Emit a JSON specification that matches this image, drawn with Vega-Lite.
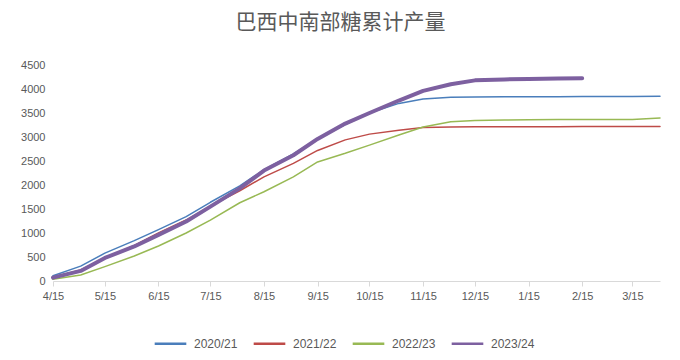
{
  "$schema": "https://vega.github.io/schema/vega-lite/v6.json",
  "width": 607,
  "height": 216,
  "autosize": {"type": "none"},
  "padding": {"left": 53, "top": 65, "right": 20, "bottom": 79},
  "background": "white",
  "title": {
    "text": "巴西中南部糖累计产量",
    "font": "Noto Sans CJK SC",
    "fontSize": 21,
    "fontWeight": "normal",
    "color": "#595959",
    "anchor": "middle",
    "dx": -16,
    "offset": 26
  },
  "config": {
    "view": {"stroke": null},
    "axis": {"labelFont": "Liberation Sans", "labelFontSize": 11, "labelColor": "#595959", "grid": false, "title": null},
    "legend": {"labelFont": "Liberation Sans", "labelFontSize": 12, "labelColor": "#595959"}
  },
  "data": {
    "values": [
      {"date": "2023-04-15T00:00", "season": "2020/21", "value": 110},
      {"date": "2023-05-01T00:00", "season": "2020/21", "value": 310},
      {"date": "2023-05-15T00:00", "season": "2020/21", "value": 580},
      {"date": "2023-06-01T00:00", "season": "2020/21", "value": 840},
      {"date": "2023-06-15T00:00", "season": "2020/21", "value": 1070},
      {"date": "2023-07-01T00:00", "season": "2020/21", "value": 1340},
      {"date": "2023-07-15T00:00", "season": "2020/21", "value": 1640},
      {"date": "2023-08-01T00:00", "season": "2020/21", "value": 1980},
      {"date": "2023-08-15T00:00", "season": "2020/21", "value": 2320},
      {"date": "2023-09-01T00:00", "season": "2020/21", "value": 2650},
      {"date": "2023-09-15T00:00", "season": "2020/21", "value": 2960},
      {"date": "2023-10-01T00:00", "season": "2020/21", "value": 3260},
      {"date": "2023-10-15T00:00", "season": "2020/21", "value": 3500},
      {"date": "2023-11-01T00:00", "season": "2020/21", "value": 3700},
      {"date": "2023-11-15T00:00", "season": "2020/21", "value": 3790},
      {"date": "2023-12-01T00:00", "season": "2020/21", "value": 3830},
      {"date": "2023-12-15T00:00", "season": "2020/21", "value": 3835},
      {"date": "2024-01-01T00:00", "season": "2020/21", "value": 3838},
      {"date": "2024-01-15T00:00", "season": "2020/21", "value": 3840},
      {"date": "2024-02-01T00:00", "season": "2020/21", "value": 3840},
      {"date": "2024-02-15T00:00", "season": "2020/21", "value": 3842},
      {"date": "2024-03-01T00:00", "season": "2020/21", "value": 3843},
      {"date": "2024-03-15T00:00", "season": "2020/21", "value": 3845},
      {"date": "2024-03-31T00:00", "season": "2020/21", "value": 3850},
      {"date": "2023-04-15T00:00", "season": "2021/22", "value": 80},
      {"date": "2023-05-01T00:00", "season": "2021/22", "value": 230},
      {"date": "2023-05-15T00:00", "season": "2021/22", "value": 470},
      {"date": "2023-06-01T00:00", "season": "2021/22", "value": 740},
      {"date": "2023-06-15T00:00", "season": "2021/22", "value": 1000},
      {"date": "2023-07-01T00:00", "season": "2021/22", "value": 1270},
      {"date": "2023-07-15T00:00", "season": "2021/22", "value": 1560},
      {"date": "2023-08-01T00:00", "season": "2021/22", "value": 1880},
      {"date": "2023-08-15T00:00", "season": "2021/22", "value": 2170},
      {"date": "2023-09-01T00:00", "season": "2021/22", "value": 2450},
      {"date": "2023-09-15T00:00", "season": "2021/22", "value": 2720},
      {"date": "2023-10-01T00:00", "season": "2021/22", "value": 2940},
      {"date": "2023-10-15T00:00", "season": "2021/22", "value": 3060},
      {"date": "2023-11-01T00:00", "season": "2021/22", "value": 3140},
      {"date": "2023-11-15T00:00", "season": "2021/22", "value": 3200},
      {"date": "2023-12-01T00:00", "season": "2021/22", "value": 3210},
      {"date": "2023-12-15T00:00", "season": "2021/22", "value": 3212},
      {"date": "2024-01-01T00:00", "season": "2021/22", "value": 3214},
      {"date": "2024-01-15T00:00", "season": "2021/22", "value": 3215},
      {"date": "2024-02-01T00:00", "season": "2021/22", "value": 3216},
      {"date": "2024-02-15T00:00", "season": "2021/22", "value": 3217},
      {"date": "2024-03-01T00:00", "season": "2021/22", "value": 3218},
      {"date": "2024-03-15T00:00", "season": "2021/22", "value": 3219},
      {"date": "2024-03-31T00:00", "season": "2021/22", "value": 3220},
      {"date": "2023-04-15T00:00", "season": "2022/23", "value": 35},
      {"date": "2023-05-01T00:00", "season": "2022/23", "value": 125},
      {"date": "2023-05-15T00:00", "season": "2022/23", "value": 300},
      {"date": "2023-06-01T00:00", "season": "2022/23", "value": 520},
      {"date": "2023-06-15T00:00", "season": "2022/23", "value": 730},
      {"date": "2023-07-01T00:00", "season": "2022/23", "value": 1000},
      {"date": "2023-07-15T00:00", "season": "2022/23", "value": 1270},
      {"date": "2023-08-01T00:00", "season": "2022/23", "value": 1630},
      {"date": "2023-08-15T00:00", "season": "2022/23", "value": 1860},
      {"date": "2023-09-01T00:00", "season": "2022/23", "value": 2170},
      {"date": "2023-09-15T00:00", "season": "2022/23", "value": 2480},
      {"date": "2023-10-01T00:00", "season": "2022/23", "value": 2660},
      {"date": "2023-10-15T00:00", "season": "2022/23", "value": 2830},
      {"date": "2023-11-01T00:00", "season": "2022/23", "value": 3040},
      {"date": "2023-11-15T00:00", "season": "2022/23", "value": 3210},
      {"date": "2023-12-01T00:00", "season": "2022/23", "value": 3320},
      {"date": "2023-12-15T00:00", "season": "2022/23", "value": 3345},
      {"date": "2024-01-01T00:00", "season": "2022/23", "value": 3355},
      {"date": "2024-01-15T00:00", "season": "2022/23", "value": 3360},
      {"date": "2024-02-01T00:00", "season": "2022/23", "value": 3362},
      {"date": "2024-02-15T00:00", "season": "2022/23", "value": 3363},
      {"date": "2024-03-01T00:00", "season": "2022/23", "value": 3365},
      {"date": "2024-03-15T00:00", "season": "2022/23", "value": 3367},
      {"date": "2024-03-31T00:00", "season": "2022/23", "value": 3395},
      {"date": "2023-04-15T00:00", "season": "2023/24", "value": 70},
      {"date": "2023-05-01T00:00", "season": "2023/24", "value": 210},
      {"date": "2023-05-15T00:00", "season": "2023/24", "value": 480},
      {"date": "2023-06-01T00:00", "season": "2023/24", "value": 720},
      {"date": "2023-06-15T00:00", "season": "2023/24", "value": 960},
      {"date": "2023-07-01T00:00", "season": "2023/24", "value": 1240},
      {"date": "2023-07-15T00:00", "season": "2023/24", "value": 1550},
      {"date": "2023-08-01T00:00", "season": "2023/24", "value": 1930},
      {"date": "2023-08-15T00:00", "season": "2023/24", "value": 2300},
      {"date": "2023-09-01T00:00", "season": "2023/24", "value": 2620},
      {"date": "2023-09-15T00:00", "season": "2023/24", "value": 2960},
      {"date": "2023-10-01T00:00", "season": "2023/24", "value": 3280},
      {"date": "2023-10-15T00:00", "season": "2023/24", "value": 3500},
      {"date": "2023-11-01T00:00", "season": "2023/24", "value": 3760},
      {"date": "2023-11-15T00:00", "season": "2023/24", "value": 3960},
      {"date": "2023-12-01T00:00", "season": "2023/24", "value": 4100},
      {"date": "2023-12-15T00:00", "season": "2023/24", "value": 4180},
      {"date": "2024-01-01T00:00", "season": "2023/24", "value": 4200},
      {"date": "2024-01-15T00:00", "season": "2023/24", "value": 4210},
      {"date": "2024-02-01T00:00", "season": "2023/24", "value": 4220},
      {"date": "2024-02-15T00:00", "season": "2023/24", "value": 4222}
    ]
  },
  "mark": {"type": "line", "strokeCap": "round", "strokeJoin": "round"},
  "encoding": {
    "x": {
      "field": "date",
      "type": "temporal",
      "scale": {"domain": [{"year": 2023, "month": 4, "date": 15}, {"year": 2024, "month": 3, "date": 31}], "nice": false},
      "axis": {
        "format": "%-m/%-d",
        "values": [
          {"year": 2023, "month": 4, "date": 15},
          {"year": 2023, "month": 5, "date": 15},
          {"year": 2023, "month": 6, "date": 15},
          {"year": 2023, "month": 7, "date": 15},
          {"year": 2023, "month": 8, "date": 15},
          {"year": 2023, "month": 9, "date": 15},
          {"year": 2023, "month": 10, "date": 15},
          {"year": 2023, "month": 11, "date": 15},
          {"year": 2023, "month": 12, "date": 15},
          {"year": 2024, "month": 1, "date": 15},
          {"year": 2024, "month": 2, "date": 15},
          {"year": 2024, "month": 3, "date": 15}
        ],
        "domainColor": "#D9D9D9",
        "tickColor": "#D9D9D9",
        "tickSize": 5,
        "labelPadding": 4,
        "labelFlush": false,
        "labelOverlap": false
      }
    },
    "y": {
      "field": "value",
      "type": "quantitative",
      "scale": {"domain": [0, 4500], "nice": false},
      "axis": {"values": [0, 500, 1000, 1500, 2000, 2500, 3000, 3500, 4000, 4500], "format": "d", "domain": false, "ticks": false, "labelPadding": 8}
    },
    "color": {
      "field": "season",
      "type": "nominal",
      "scale": {"domain": ["2020/21", "2021/22", "2022/23", "2023/24"], "range": ["#4A7EBB", "#BE4B48", "#98B954", "#7D60A0"]},
      "legend": {
        "title": null,
        "orient": "none",
        "legendX": 100,
        "legendY": 261,
        "direction": "horizontal",
        "columns": 4,
        "symbolType": "stroke",
        "symbolSize": 1000,
        "symbolStrokeWidth": 2.5,
        "columnPadding": 10,
        "labelOffset": 6
      }
    },
    "strokeWidth": {
      "condition": {"test": "datum.season === '2023/24'", "value": 4},
      "value": 1.5
    }
  }
}
